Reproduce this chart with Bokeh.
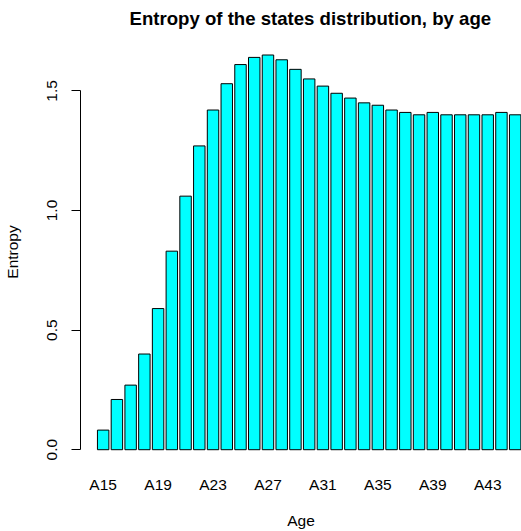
from bokeh.plotting import figure
from bokeh.models import ColumnDataSource, Range1d, FixedTicker
from bokeh.embed import file_html
from bokeh.resources import INLINE

ages = ["A15", "A16", "A17", "A18", "A19", "A20", "A21", "A22", "A23", "A24",
        "A25", "A26", "A27", "A28", "A29", "A30", "A31", "A32", "A33", "A34",
        "A35", "A36", "A37", "A38", "A39", "A40", "A41", "A42", "A43", "A44", "A45"]
entropy = [0.082, 0.21, 0.27, 0.40, 0.59, 0.83, 1.06, 1.27, 1.42, 1.53,
           1.61, 1.64, 1.65, 1.63, 1.59, 1.55, 1.52, 1.49, 1.47, 1.45,
           1.44, 1.42, 1.41, 1.40, 1.41, 1.40, 1.40, 1.40, 1.40, 1.41, 1.40]
y_ticks = [0.0, 0.5, 1.0, 1.5]

idx = list(range(len(ages)))
src = ColumnDataSource(dict(x=idx, top=entropy, age=ages))

FONT = "Liberation Sans"

p = figure(width=521, height=531, output_backend="svg", toolbar_location=None,
           x_range=Range1d(-1.65, 30.46), y_range=Range1d(-0.066, 1.719),
           min_border_left=80, min_border_right=0, min_border_top=38,
           min_border_bottom=65, background_fill_color="white",
           border_fill_color="white", outline_line_color=None)

p.title.text = "Entropy of the states distribution, by age"
p.title.text_font = FONT
p.title.text_font_size = "18.6px"
p.title.text_font_style = "bold"
p.title.text_color = "black"
p.title.align = "left"
p.title.offset = 49
p.title.vertical_align = "top"
p.title.standoff = 15

p.vbar(x="x", top="top", bottom=0, width=1 / 1.2, source=src,
       fill_color="#00FFFF", line_color="black", line_width=1)

p.xgrid.visible = False
p.ygrid.visible = False

xa = p.xaxis[0]
xa.ticker = FixedTicker(ticks=idx[::4])
xa.major_label_overrides = {i: ages[i] for i in idx[::4]}
xa.axis_line_color = None
xa.major_tick_line_color = None
xa.minor_tick_line_color = None
xa.major_tick_out = 0
xa.major_tick_in = 0
xa.major_label_standoff = 10
xa.major_label_text_font = FONT
xa.major_label_text_font_size = "15.5px"
xa.major_label_text_color = "black"
xa.axis_label = "Age"
xa.axis_label_text_font = FONT
xa.axis_label_text_font_size = "15.5px"
xa.axis_label_text_font_style = "normal"
xa.axis_label_text_color = "black"
xa.axis_label_standoff = 16

ya = p.yaxis[0]
ya.ticker = FixedTicker(ticks=y_ticks)
ya.major_label_overrides = {0: "0.0", 0.5: "0.5", 1: "1.0", 1.5: "1.5"}
ya.bounds = (0, 1.5)
ya.axis_line_color = "black"
ya.major_tick_line_color = "black"
ya.minor_tick_line_color = None
ya.major_tick_out = 9
ya.major_tick_in = 0
ya.major_label_orientation = "vertical"
ya.major_label_standoff = 14
ya.major_label_text_font = FONT
ya.major_label_text_font_size = "15.5px"
ya.major_label_text_color = "black"
ya.axis_label = "Entropy"
ya.axis_label_text_font = FONT
ya.axis_label_text_font_size = "15.5px"
ya.axis_label_text_font_style = "normal"
ya.axis_label_text_color = "black"
ya.axis_label_standoff = 24

open("out.html", "w").write(file_html(p, INLINE))
